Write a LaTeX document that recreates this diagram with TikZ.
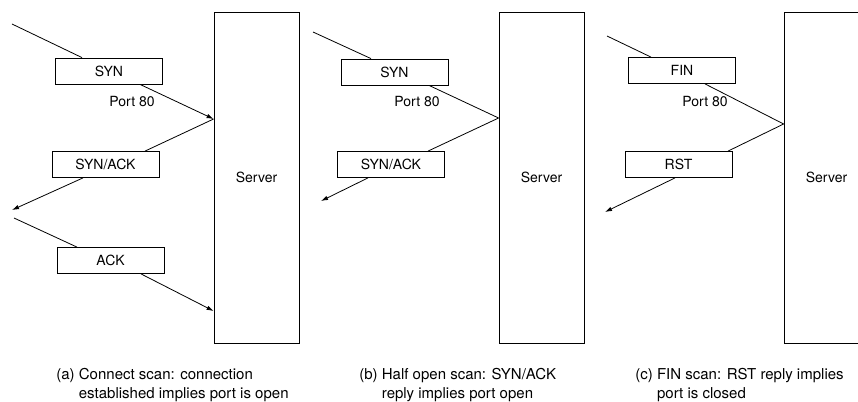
\documentclass[tikz,border=0pt]{standalone}
\usepackage{fontspec}
\setmainfont{TeX Gyre Heros}
\usetikzlibrary{calc,arrows.meta,positioning}

\newcommand{\pktfont}{\fontsize{14}{17}\selectfont}
\newcommand{\capfont}{\fontsize{15}{19}\selectfont}

\tikzset{
  pkt/.style={draw, rectangle, minimum width=107pt, minimum height=26pt, inner sep=0pt},
  host/.style={draw, rectangle, minimum width=85pt, minimum height=331pt, inner sep=0pt},
  msgarrow/.style={-{Latex[length=7pt,width=4.5pt]}},
  capnote/.style={anchor=west, inner sep=0pt, font=\capfont},
}

\begin{document}
\begin{tikzpicture}[x=1pt,y=-1pt,line width=0.8pt,every node/.append style={font=\pktfont}]
    \useasboundingbox (0,0) rectangle (858,401);
    \clip (0,0) rectangle (858,401);
    % the three servers
    \node[host] (srvA) at (256.5,177.5) {Server};
    \node[host] (srvB) at (541.5,177.5) {Server};
    \node[host] (srvC) at (826.5,177.5) {Server};

    % (a) connect scan
    \coordinate (inA) at (12,24);
    \coordinate (outA) at (12,210);
    \coordinate (inA2) at (14,218);
    \node[pkt] (synA) at (109,71) {SYN};
    \node (portA) at (132,102) {Port 80};
    \node[pkt] (synackA) at (105.5,164.5) {SYN/ACK};
    \node[pkt] (ackA) at (110.5,260.5) {ACK};
    \draw (inA) -- (synA.north -| 82,0);
    \draw[msgarrow] (synA.south -| 140,0) -- (srvA.west |- 0,119);
    \draw (srvA.west |- 0,119) -- (synackA.north -| 145,0);
    \draw[msgarrow] (synackA.south -| 83,0) -- (outA);
    \draw (inA2) -- (ackA.north -| 77,0);
    \draw[msgarrow] (ackA.south -| 141,0) -- (srvA.west |- 0,311);

    % (b) half open scan
    \coordinate (inB) at (313,32);
    \coordinate (outB) at (321,201);
    \node[pkt] (synB) at (394.5,72) {SYN};
    \node (portB) at (417,102) {Port 80};
    \node[pkt] (synackB) at (391,164.5) {SYN/ACK};
    \draw (inB) -- (synB.north -| 371,0);
    \draw (synB.south -| 429,0) -- (srvB.west |- 0,118) -- (synackB.north -| 428,0);
    \draw[msgarrow] (synackB.south -| 368,0) -- (outB);

    % (c) fin scan
    \coordinate (inC) at (607,36);
    \coordinate (outC) at (605,212);
    \node[pkt] (finC) at (682,70.5) {FIN};
    \node (portC) at (705,102) {Port 80};
    \node[pkt] (rstC) at (678.5,164.5) {RST};
    \draw (inC) -- (finC.north -| 651,0);
    \draw (finC.south -| 705,0) -- (srvC.west |- 0,124) -- (rstC.north -| 728,0);
    \draw[msgarrow] (rstC.south -| 675,0) -- (outC);

    % captions
    \node[capnote] (capA) at (56,385.5)
      {\begin{tabular}{@{}l@{ }l@{}}(a) & Connect scan: connection\\ & established implies port is open\end{tabular}};
    \node[capnote] (capB) at (359,385.5)
      {\begin{tabular}{@{}l@{ }l@{}}(b) & Half open scan: SYN/ACK\\ & reply implies port open\end{tabular}};
    \node[capnote] (capC) at (635,385.5)
      {\begin{tabular}{@{}l@{ }l@{}}(c) & FIN scan: RST reply implies\\ & port is closed\end{tabular}};
\end{tikzpicture}
\end{document}
